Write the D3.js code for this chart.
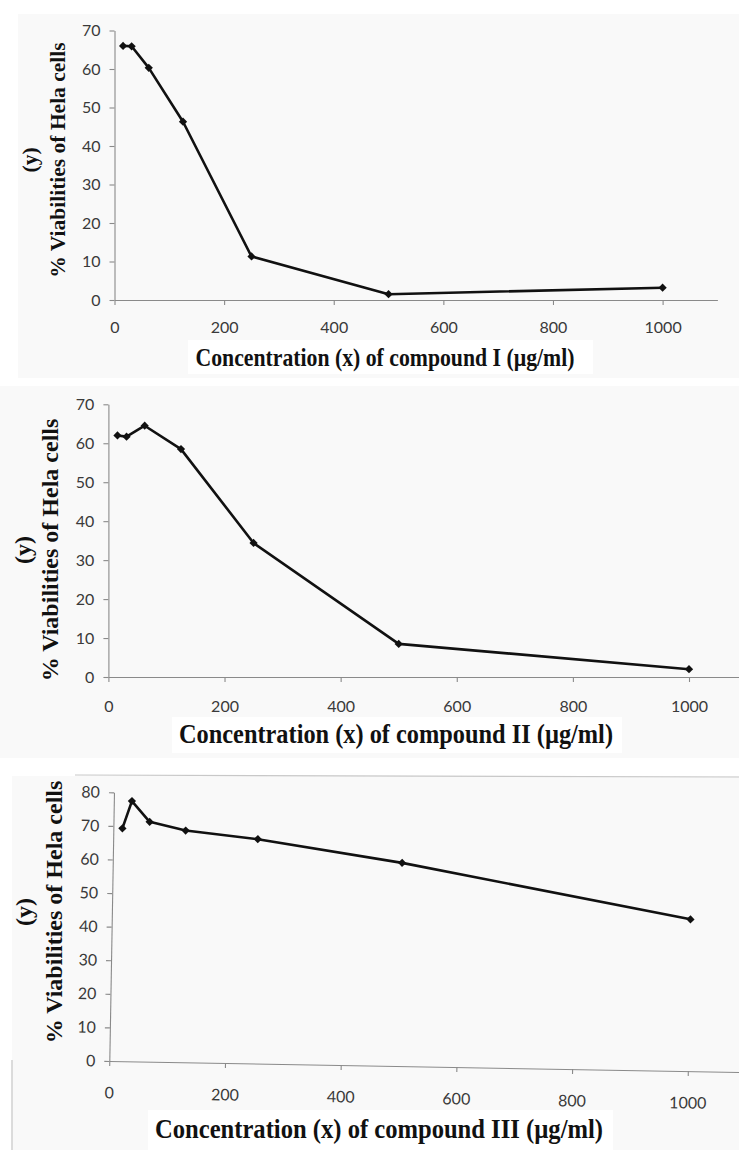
<!DOCTYPE html>
<html>
<head>
<meta charset="utf-8">
<script src="https://cdn.jsdelivr.net/npm/d3@7"></script>
<style>
  body { margin: 0; background: #fff; }
  svg { display: block; }
</style>
</head>
<body>
<svg id="chart" width="739" height="1150"></svg>
<script>
// concentrations (µg/ml) shared by the three compounds
const concentrations = [15.625, 31.25, 62.5, 125, 250, 500, 1000];

// % viability of Hela cells
const viabilityI   = [66.0, 65.9, 60.3, 46.3, 11.3, 1.5, 3.2];
const viabilityII  = [62.0, 61.7, 64.5, 58.5, 34.4, 8.5, 2.0];
const viabilityIII = [69.3, 77.5, 71.4, 69.0, 66.8, 60.5, 45.2];

const xTicks = [0, 200, 400, 600, 800, 1000];
const yTicksI = [0, 10, 20, 30, 40, 50, 60, 70];
const yTicksII = [0, 10, 20, 30, 40, 50, 60, 70];
const yTicksIII = [0, 10, 20, 30, 40, 50, 60, 70, 80];

const xTitles = [
  "Concentration (x) of compound I (\u00b5g/ml)",
  "Concentration (x) of compound II (\u00b5g/ml)",
  "Concentration (x) of compound III (\u00b5g/ml)"
];
const yTitle = "% Viabilities of Hela cells";
const yTitleTop = "(y)";

const svg = d3.select("#chart");

// faint scan background
svg.append("rect").attr("x", 18).attr("y", 14).attr("width", 721).attr("height", 364).attr("fill", "#f9f9f9");
svg.append("rect").attr("x", 0).attr("y", 386).attr("width", 739).attr("height", 372).attr("fill", "#f9f9f9");
svg.append("rect").attr("x", 12).attr("y", 776).attr("width", 727).attr("height", 374).attr("fill", "#f9f9f9");
svg.append("line").attr("x1", 75).attr("y1", 775).attr("x2", 739).attr("y2", 777)
  .attr("stroke", "#c8c8c8").attr("stroke-width", 1.2);
svg.append("line").attr("x1", 12).attr("y1", 1060).attr("x2", 12).attr("y2", 1150)
  .attr("stroke", "#d0d0d0").attr("stroke-width", 1.5);

const panels = [
  { values: viabilityI, yTicks: yTicksI, yMax: 70, ox: 114.5, oy: 300, w1000: 548.1, h: 269.5, rot: 0,
    tickPad: 17, title: xTitles[0], tx: 385, ty: 366, tfs: 26, tlen: 379, box: [188, 340, 405, 34],
    yx: 29, yx2: 57, yc: 160, yfs: 21.5 },
  { values: viabilityII, yTicks: yTicksII, yMax: 70, ox: 108.4, oy: 677, w1000: 580.6, h: 272.7, rot: 0,
    tickPad: 19, title: xTitles[1], tx: 396, ty: 743, tfs: 27, tlen: 434, box: [172, 717, 450, 36],
    yx: 23, yx2: 50, yc: 550, yfs: 24 },
  { values: viabilityIII, yTicks: yTicksIII, yMax: 80, ox: 109.3, oy: 1061, w1000: 578.6, h: 268.7, rot: 1,
    tickPad: 21, title: xTitles[2], tx: 379, ty: 1138, tfs: 27, tlen: 448, box: [148, 1110, 465, 40],
    yx: 24, yx2: 54, yc: 912, yfs: 24 }
];

panels.forEach(p => {
  // white box behind the x title
  svg.append("rect").attr("x", p.box[0]).attr("y", p.box[1]).attr("width", p.box[2]).attr("height", p.box[3])
    .attr("fill", "#fff");

  const g = svg.append("g")
    .attr("transform", `translate(${p.ox},${p.oy}) rotate(${p.rot})`);

  const x = d3.scaleLinear().domain([0, 1100]).range([0, p.w1000 * 1.1]);
  const y = d3.scaleLinear().domain([0, p.yMax]).range([0, -p.h]);

  const xAxis = g.append("g")
    .call(d3.axisBottom(x).tickValues(xTicks).tickFormat(d3.format("d"))
      .tickSize(5).tickSizeOuter(0).tickPadding(p.tickPad));
  const yAxis = g.append("g")
    .call(d3.axisLeft(y).tickValues(p.yTicks).tickFormat(d3.format("d"))
      .tickSize(5).tickSizeOuter(0).tickPadding(9));

  [xAxis, yAxis].forEach(a => {
    a.select(".domain").attr("stroke", "#8a8a8a").attr("stroke-width", 1.1);
    a.selectAll(".tick line").attr("stroke", "#8a8a8a").attr("stroke-width", 1.1);
    a.selectAll(".tick text")
      .attr("fill", "#3a3a3a")
      .style("font-family", "Lato, 'Open Sans', sans-serif")
      .style("font-size", "16px");
  });

  const pts = concentrations.map((c, i) => [c, p.values[i]]);

  g.append("path")
    .datum(pts)
    .attr("fill", "none")
    .attr("stroke", "#111")
    .attr("stroke-width", 2.6)
    .attr("stroke-linejoin", "round")
    .attr("d", d3.line().x(d => x(d[0])).y(d => y(d[1])));

  g.selectAll(".mark")
    .data(pts)
    .join("path")
    .attr("class", "mark")
    .attr("transform", d => `translate(${x(d[0])},${y(d[1])}) rotate(45)`)
    .attr("d", d3.symbol(d3.symbolSquare, 34))
    .attr("fill", "#111");

  // x title
  svg.append("text")
    .attr("x", p.tx).attr("y", p.ty)
    .attr("text-anchor", "middle")
    .attr("textLength", p.tlen)
    .attr("lengthAdjust", "spacingAndGlyphs")
    .style("font-family", "'Liberation Serif', 'Times New Roman', serif")
    .style("font-weight", "bold")
    .style("font-size", p.tfs + "px")
    .attr("fill", "#111")
    .text(p.title);

  // y title, two lines
  [[p.yx, yTitleTop], [p.yx2, yTitle]].forEach(([cx, t]) => {
    svg.append("text")
      .attr("transform", `translate(${cx},${p.yc}) rotate(-90)`)
      .attr("text-anchor", "middle")
      .attr("dy", "0.35em")
      .style("font-family", "'Liberation Serif', 'Times New Roman', serif")
      .style("font-weight", "bold")
      .style("font-size", p.yfs + "px")
      .attr("fill", "#111")
      .text(t);
  });
});
</script>
</body>
</html>
